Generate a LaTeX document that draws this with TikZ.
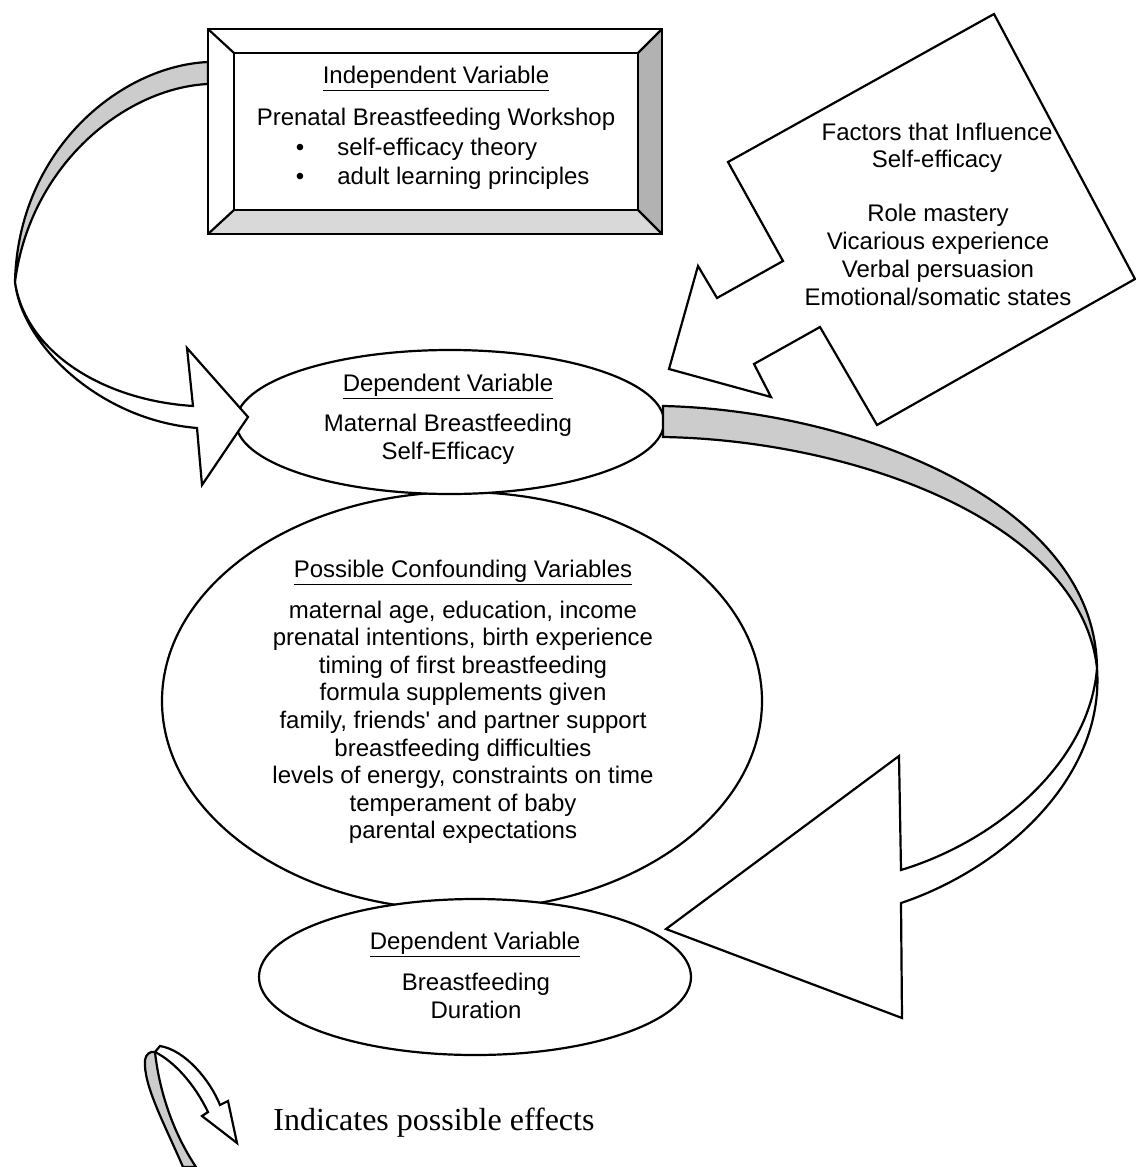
\documentclass[tikz,border=0pt]{standalone}
\usepackage{fontspec}
\setmainfont{Liberation Sans}
\newfontfamily\legendfont{Liberation Serif}
\usetikzlibrary{positioning}

\tikzset{
  edge/.style={line width=1.1pt, line join=miter},
  ribbonback/.style={edge, draw, fill=gray!40},
  ribbonfront/.style={edge, draw, fill=white},
  oval/.style={edge, draw, fill=white},
  txt/.style={anchor=base, inner sep=0pt, font=\fontsize{12}{14}\selectfont}
}

\begin{document}
\begin{tikzpicture}[x=0.5pt, y=-0.5pt]
  \useasboundingbox (0,0) rectangle (1135,1167);

  % Ovals
  \draw[oval] (462,701) ellipse [x radius=300, y radius=209]; % confounding
  \draw[oval] (450,422) ellipse [x radius=214, y radius=72];  % self-efficacy
  \draw[oval] (475,977) ellipse [x radius=216, y radius=78];  % duration

  % Left ribbon arrow (workshop -> self-efficacy)
  \draw[ribbonback] (208,62) .. controls (120,66) and (18,150) .. (15,282)
    .. controls (30,165) and (125,88) .. (208,84) -- cycle;
  \draw[ribbonfront] (15,282) .. controls (22,345) and (100,420) .. (197,428)
    -- (202,485) -- (248,417) -- (187,348) -- (193,406)
    .. controls (100,400) and (25,350) .. (15,282) -- cycle;

  % Right ribbon arrow (self-efficacy -> duration)
  \draw[ribbonback] (663,406) .. controls (850,410) and (1095,500) .. (1097,668)
    .. controls (1080,520) and (850,440) .. (663,437) -- cycle;
  \draw[ribbonfront] (1097,668) .. controls (1105,780) and (1000,870) .. (901,903)
    -- (902,1018) -- (666,929) -- (899,756) -- (901,870)
    .. controls (1000,840) and (1090,760) .. (1097,668) -- cycle;

  % Factors callout
  \draw[ribbonfront] (728,162) -- (783,261) -- (717,298) -- (698,266) -- (669,369)
    -- (771,397) -- (754,364) -- (820,327) -- (877,425) -- (1135,279)
    -- (994,14) -- cycle;

  % Bevelled box
  \coordinate (boxNW) at (208,29);  \coordinate (boxSE) at (662,234);
  \coordinate (inNW) at (234,53);   \coordinate (inSE) at (638,210);
  \fill[white] (boxNW) rectangle (boxSE);
  \fill[gray!60] (662,29) -- (662,234) -- (638,210) -- (638,53) -- cycle;
  \fill[gray!30] (208,234) -- (662,234) -- (638,210) -- (234,210) -- cycle;
  \draw[edge] (boxNW) rectangle (boxSE);
  \draw[edge] (inNW) rectangle (inSE);
  \draw[edge] (208,29) -- (234,53)  (662,29) -- (638,53)
              (208,234) -- (234,210)  (662,234) -- (638,210);

  % Box text
  \node[txt] (ivTitle) at (436,83) {\underline{Independent Variable}};
  \node[txt] (ivName) at (436,125) {Prenatal Breastfeeding Workshop};
  \node[txt] (bulletA) at (300,155) {•};
  \node[txt, anchor=base west] (ivA) at (337,155) {self-efficacy theory};
  \node[txt] (bulletB) at (300,184) {•};
  \node[txt, anchor=base west] (ivB) at (337,184) {adult learning principles};

  % Factors text
  \node[txt] (facA) at (937,140) {Factors that Influence};
  \node[txt] (facB) at (937,167) {Self-efficacy};
  \foreach \fac [count=\i from 0] in {Role mastery, Vicarious experience,
      Verbal persuasion, Emotional/somatic states}
    \node[txt] (fac\i) at (938,{221+28*\i}) {\fac};

  % Self-efficacy text
  \node[txt] (dvTitle) at (448,391) {\underline{Dependent Variable}};
  \node[txt] (dvA) at (448,431) {Maternal Breastfeeding};
  \node[txt] (dvB) at (448,459) {Self-Efficacy};

  % Confounding text
  \node[txt] (confTitle) at (463,577) {\underline{Possible Confounding Variables}};
  \foreach \conf [count=\i from 0] in {{maternal age, education, income},
      {prenatal intentions, birth experience}, {timing of first breastfeeding},
      {formula supplements given}, {family, friends\textquotesingle\ and partner support},
      {breastfeeding difficulties}, {levels of energy, constraints on time},
      {temperament of baby}, {parental expectations}}
    \node[txt] (conf\i) at (463,{618+27.6*\i}) {\conf};

  % Duration text
  \node[txt] (durTitle) at (475,949) {\underline{Dependent Variable}};
  \node[txt] (durA) at (476,990) {Breastfeeding};
  \node[txt] (durB) at (476,1018) {Duration};

  % Legend
  \draw[ribbonback] (183,1167) .. controls (165,1125) and (143,1085) .. (145,1060)
    .. controls (146,1054) and (150,1051) .. (155,1052)
    .. controls (158,1080) and (168,1125) .. (196,1167) -- cycle;
  \draw[ribbonfront] (155,1052) -- (160,1046) .. controls (185,1050) and (210,1080) .. (220,1105)
    -- (228,1101) -- (237,1143) -- (202,1116) -- (208,1112)
    .. controls (195,1085) and (175,1062) .. (155,1052) -- cycle;
  \node[anchor=base west, inner sep=0pt, font=\legendfont\fontsize{16}{18}\selectfont]
    (legend) at (273,1130) {Indicates possible effects};
\end{tikzpicture}
\end{document}
